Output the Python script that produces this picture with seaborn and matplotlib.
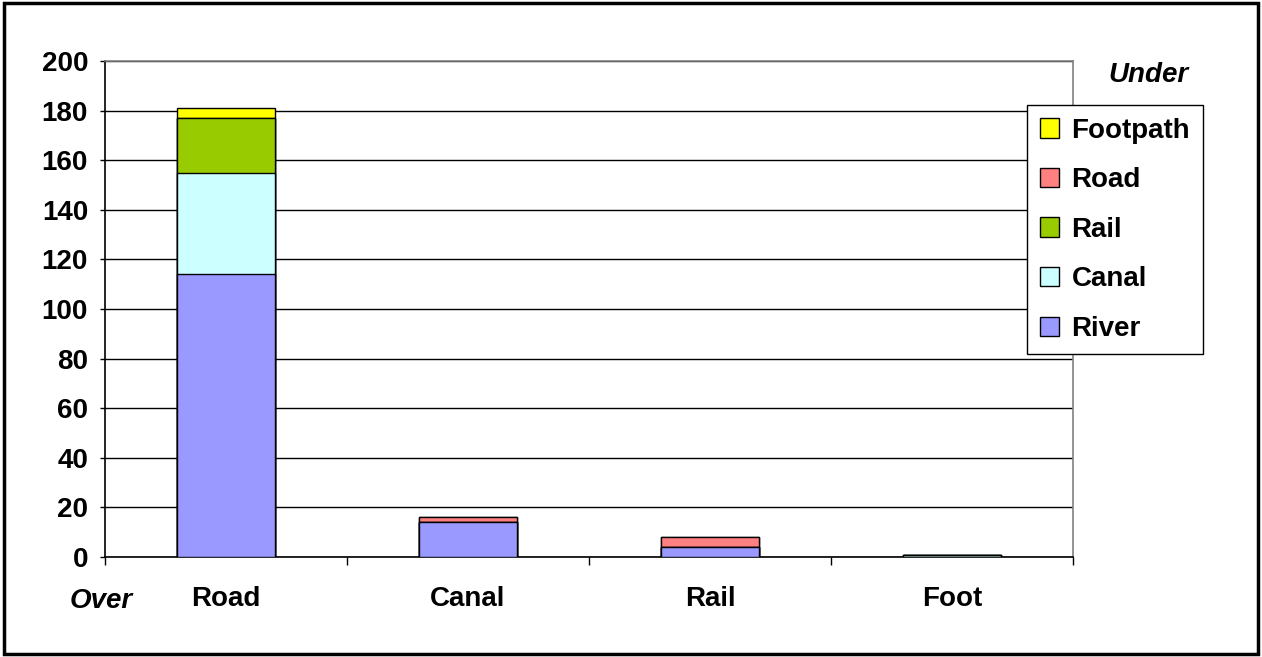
import numpy as np
import pandas as pd
import matplotlib
matplotlib.use('Agg')
import matplotlib.pyplot as plt
import seaborn as sns
from matplotlib.patches import Patch, Rectangle

# Crossing type (over) and what is crossed (under)
categories = ['Road', 'Canal', 'Rail', 'Foot']
river = [114, 14, 4, 0]
canal = [41, 0, 0, 1]
rail = [22, 0, 0, 0]
road = [0, 2, 4, 0]
footpath = [4, 0, 0, 0]

series_names = ['River', 'Canal', 'Rail', 'Road', 'Footpath']
series_values = [river, canal, rail, road, footpath]
series_colors = ['#9999FF', '#CCFFFF', '#99CC00', '#FF8080', '#FFFF00']
y_ticks = list(range(0, 201, 20))

sns.set_style('white')
plt.rcParams['font.family'] = ['Liberation Sans', 'DejaVu Sans']
plt.rcParams['font.weight'] = 'bold'
plt.rcParams['text.color'] = 'black'
plt.rcParams['xtick.color'] = 'black'
plt.rcParams['ytick.color'] = 'black'
plt.rcParams['axes.labelcolor'] = 'black'

fig = plt.figure(figsize=(12.62, 6.57), dpi=100)
ax = fig.add_axes([105 / 1262, 100 / 657, 968 / 1262, 496 / 657])

# stacked bars: draw cumulative totals from the top down
cum = np.cumsum(np.array(series_values), axis=0)
df = pd.DataFrame(cum.T, columns=series_names)
df['crossing'] = categories
for i in range(len(series_names) - 1, -1, -1):
    sns.barplot(data=df, x='crossing', y=series_names[i], color=series_colors[i],
                saturation=1, width=0.405, edgecolor='black', linewidth=1, ax=ax,
                zorder=3)

ax.set_ylim(0, 200)
ax.set_xlim(-0.5, 3.5)
ax.set_yticks(y_ticks)
ax.grid(axis='y', color='black', linewidth=1, zorder=0)
ax.set_axisbelow(True)
ax.set_xlabel('')
ax.set_ylabel('')

for side in ['top', 'right']:
    ax.spines[side].set_color('#808080')
    ax.spines[side].set_linewidth(1.2)
for side in ['left', 'bottom']:
    ax.spines[side].set_color('black')
    ax.spines[side].set_linewidth(1.2)

ax.tick_params(axis='y', which='major', length=3.6, width=1, pad=8.6,
               labelsize=20, left=True, color='black', labelcolor='black')
ax.tick_params(axis='x', which='major', length=0, pad=21, labelsize=20,
               labelcolor='black')
ax.set_xticks([-0.5, 0.5, 1.5, 2.5, 3.5], minor=True)
ax.tick_params(axis='x', which='minor', length=6, width=1, bottom=True,
               color='black', direction='out')
for lbl in ax.get_xticklabels() + ax.get_yticklabels():
    lbl.set_fontweight('bold')

handles = [Patch(facecolor=series_colors[i], edgecolor='black', linewidth=1,
                 label=series_names[i]) for i in range(len(series_names) - 1, -1, -1)]
leg = fig.legend(handles=handles, loc='upper left',
                 bbox_to_anchor=(1027 / 1262, 1 - 105 / 657), borderaxespad=0,
                 frameon=True, fancybox=False, framealpha=1, edgecolor='black',
                 prop={'size': 20, 'weight': 'bold'}, handlelength=0.7,
                 handleheight=0.7, handletextpad=0.45, labelspacing=0.85,
                 borderpad=0.45, labelcolor='black')
leg.get_frame().set_linewidth(1)

fig.text(1148 / 1262, 1 - 75 / 657, 'Under', ha='center', va='center',
         fontsize=20, fontweight='bold', style='italic', color='black')
fig.text(101 / 1262, 1 - 601 / 657, 'Over', ha='center', va='center',
         fontsize=20, fontweight='bold', style='italic', color='black')

fig.patches.append(Rectangle((0.003, 0.005), 0.994, 0.99, transform=fig.transFigure,
                             fill=False, edgecolor='black', linewidth=2.5))

fig.savefig('out.png', dpi=100)
